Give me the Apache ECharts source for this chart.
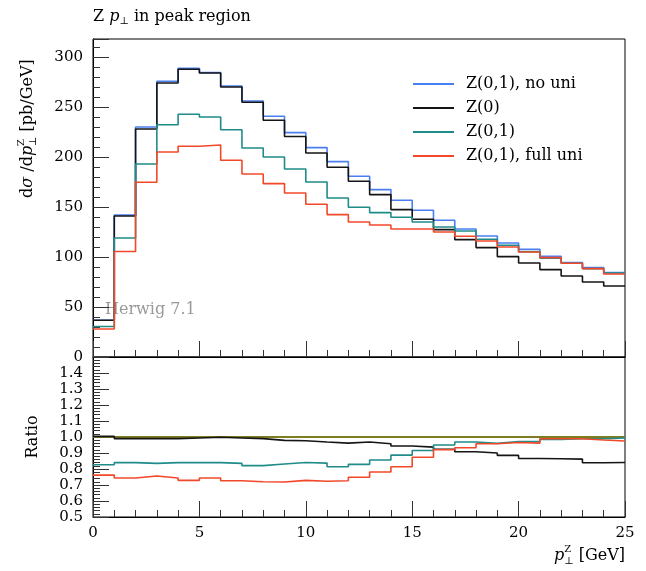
<!DOCTYPE html>
<html><head><meta charset="utf-8">
<script src="https://cdn.jsdelivr.net/npm/echarts@6/dist/echarts.min.js"></script>
<style>html,body{margin:0;padding:0;background:#fff}#c{width:646px;height:571px}</style>
</head><body><div id="c"></div>
<script>
// bin edges in GeV
const binEdges = [0,1,2,3,4,5,6,7,8,9,10,11,12,13,14,15,16,17,18,19,20,21,22,23,24,25];
const seriesNames = ['Z(0,1), no uni', 'Z(0)', 'Z(0,1)', 'Z(0,1), full uni'];
const seriesColors = ['#4a7ff2', '#151515', '#1f8c8a', '#f2482a'];
// dsigma/dpT [pb/GeV]
const noUni   = [36.7,142,230,275.7,288.7,284.5,271,256,240.7,224.4,209.4,195.4,180.7,167.4,156.7,146.7,136.7,128,121,114,107.7,100.7,94.4,89.4,84.4];
const z0      = [36.8,141,228,274,287.7,284,270,254.7,236.7,220.5,204,189.7,175.7,162.4,147.4,137.7,127.4,117.4,109.4,100.4,94,87.4,81,75,71];
const z01     = [30.5,119,193,232.3,242.7,240,227.3,209,200,188,175,159,149.7,144.4,139.7,135,130,126,117.7,111.7,105.4,98.7,93.7,88.4,84];
const fullUni = [28,105.5,174.7,205,210.7,212,196.7,183,173.4,164,152.7,142.4,135,132,128,128,125,120.7,116,110,105,99.4,93.7,88.4,83];
// ratios to Z(0,1), no uni
const ratioNoUni   = [1,1,1,1,1,1,1,1,1,1,1,1,1,1,1,1,1,1,1,1,1,1,1,1,1];
const ratioZ0      = [1.004,0.99,0.99,0.99,0.994,0.998,0.994,0.99,0.979,0.977,0.969,0.962,0.969,0.958,0.944,0.937,0.923,0.908,0.9,0.885,0.866,0.864,0.862,0.839,0.841];
const ratioZ01     = [0.827,0.84,0.835,0.84,0.84,0.84,0.835,0.821,0.831,0.841,0.837,0.814,0.829,0.856,0.887,0.916,0.95,0.969,0.96,0.971,0.971,0.985,0.989,0.989,0.994];
const ratioFullUni = [0.762,0.744,0.756,0.744,0.729,0.744,0.727,0.72,0.719,0.729,0.723,0.727,0.748,0.781,0.814,0.873,0.92,0.933,0.958,0.966,0.962,0.989,0.989,0.981,0.975];
const yTicksTop = [0,50,100,150,200,250,300];
const xTicks = [0,5,10,15,20,25];
const ratioTicks = ['0.5','0.6','0.7','0.8','0.9','1.0','1.1','1.2','1.3','1.4'];

const FONT = 'DejaVu Serif';
const ctx = document.createElement('canvas').getContext('2d');
function tw(t, size, italic){ ctx.font = (italic?'italic ':'') + size + 'px "' + FONT + '"'; return ctx.measureText(t).width; }

function hist(vals){
  const d = vals.map((v,i)=>[binEdges[i], v]);
  d.push([binEdges[vals.length], vals[vals.length-1]]);
  return d;
}
function lineSeries(name, vals, color, axis, z, width){
  return {name, type:'line', step:'end', xAxisIndex:axis, yAxisIndex:axis, data:hist(vals),
    showSymbol:false, symbol:'none', color, lineStyle:{color, width: width||1.6}, z, animation:false, silent:true};
}

function pieces(list, x0, y, size){
  const out = []; let x = x0;
  list.forEach(p=>{
    const s = p.size || size;
    if (p.stack){
      const w = Math.max(tw(p.sup, s, p.supItalic), tw(p.sub, s));
      out.push({type:'text', x:x, y:y-7, style:{text:p.sup, font:(p.supItalic?'italic ':'')+s+'px "'+FONT+'"', fill:'#000', verticalAlign:'middle', align:'left'}});
      out.push({type:'text', x:x, y:y+5, style:{text:p.sub, font:s+'px "'+FONT+'"', fill:'#000', verticalAlign:'middle', align:'left'}});
      x += w;
    } else {
      out.push({type:'text', x:x, y:y+(p.dy||0), style:{text:p.t, font:(p.i?'italic ':'')+s+'px "'+FONT+'"', fill:'#000', verticalAlign:'middle', align:'left'}});
      x += tw(p.t, s, p.i);
    }
  });
  return {els: out, width: x - x0};
}
function totalWidth(list, size){ return pieces(list, 0, 0, size).width; }

const titleP = [{t:'Z '},{t:'p',i:true},{t:'\u22A5',size:10,dy:4},{t:' in peak region'}];
const yLabP = [{t:'d'},{t:'\u03C3',i:true},{t:' /d'},{t:'p',i:true},{stack:true,sup:'Z',sub:'\u22A5',size:10},{t:' [pb/GeV]'}];
const xLabP = [{t:'p',i:true},{stack:true,sup:'Z',sub:'\u22A5',size:10},{t:' [GeV]'}];

const titleEls = pieces(titleP, 93, 17, 16).els;
const yl = pieces(yLabP, 0, 0, 16);
const xlW = totalWidth(xLabP, 16);
const xlEls = pieces(xLabP, 625 - xlW, 556, 16).els;

const chart = echarts.init(document.getElementById('c'), null, {renderer:'canvas'});
const axisCommonX = {type:'value', min:0, max:25, interval:5,
  axisLine:{show:true, lineStyle:{color:'#000', width:1}},
  axisTick:{show:true, inside:true, length:16, lineStyle:{color:'#333', width:1}},
  minorTick:{show:true, splitNumber:5, length:7, lineStyle:{color:'#333', width:1}},
  splitLine:{show:false}, minorSplitLine:{show:false}};
chart.setOption({
  animation:false,
  backgroundColor:'#fff',
  grid:[
    {left:93, top:39, width:532, height:318, show:true, borderColor:'#000', borderWidth:1, backgroundColor:'transparent'},
    {left:93, top:357, width:532, height:160, show:true, borderColor:'#000', borderWidth:1, backgroundColor:'transparent'}
  ],
  xAxis:[
    Object.assign({gridIndex:0, axisLabel:{show:false}}, axisCommonX),
    Object.assign({gridIndex:1, axisLabel:{show:true, margin:9, fontFamily:FONT, fontSize:15, color:'#000',
      formatter:v=> xTicks.indexOf(v)>=0 ? String(v) : ''}}, axisCommonX)
  ],
  yAxis:[
    {type:'value', gridIndex:0, min:0, max:318, interval:50,
      axisLine:{show:true, lineStyle:{color:'#000'}},
      axisTick:{show:true, inside:true, length:16, lineStyle:{color:'#333'}},
      minorTick:{show:true, splitNumber:5, length:7, lineStyle:{color:'#333'}},
      splitLine:{show:false},
      axisLabel:{margin:10, fontFamily:FONT, fontSize:15, color:'#000',
        formatter:v=> yTicksTop.indexOf(v)>=0 ? String(v) : ''}},
    {type:'value', gridIndex:1, min:0.5, max:1.5, interval:0.1,
      axisLine:{show:true, lineStyle:{color:'#000'}},
      axisTick:{show:true, inside:true, length:16, lineStyle:{color:'#333'}},
      minorTick:{show:true, splitNumber:5, length:7, lineStyle:{color:'#333'}},
      splitLine:{show:false},
      axisLabel:{margin:10, fontFamily:FONT, fontSize:15, color:'#000', showMaxLabel:false,
        formatter:v=>{ const s = (Math.round(v*10)/10).toFixed(1); return ratioTicks.indexOf(s)>=0 ? s : ''; }}}
  ],
  legend:{show:true, data:seriesNames, orient:'vertical', left:413, top:74, padding:0, icon:'rect', itemWidth:41, itemHeight:2, itemGap:4,
    textStyle:{fontFamily:FONT, fontSize:16, color:'#000', lineHeight:20, padding:[0,0,0,7]}, selectedMode:false},
  series:[
    lineSeries(seriesNames[0], noUni, seriesColors[0], 0, 2),
    lineSeries(seriesNames[1], z0, seriesColors[1], 0, 3),
    lineSeries(seriesNames[2], z01, seriesColors[2], 0, 4),
    lineSeries(seriesNames[3], fullUni, seriesColors[3], 0, 5),
    lineSeries('ratio ref', ratioNoUni, '#7d7d22', 1, 2, 2),
    lineSeries(seriesNames[1], ratioZ0, seriesColors[1], 1, 3),
    lineSeries(seriesNames[2], ratioZ01, seriesColors[2], 1, 4),
    lineSeries(seriesNames[3], ratioFullUni, seriesColors[3], 1, 5)
  ],
  graphic:[].concat(titleEls, xlEls, [
    {type:'group', x:28, y:198, rotation:Math.PI/2, children: yl.els},
    {type:'text', x:33, y:437, rotation:Math.PI/2, style:{text:'Ratio', font:'16px "'+FONT+'"', fill:'#000', align:'center', verticalAlign:'middle'}},
    {type:'text', x:105, y:310, style:{text:'Herwig 7.1', font:'16px "'+FONT+'"', fill:'#999', align:'left', verticalAlign:'middle'}}
  ])
});
</script>
</body></html>
